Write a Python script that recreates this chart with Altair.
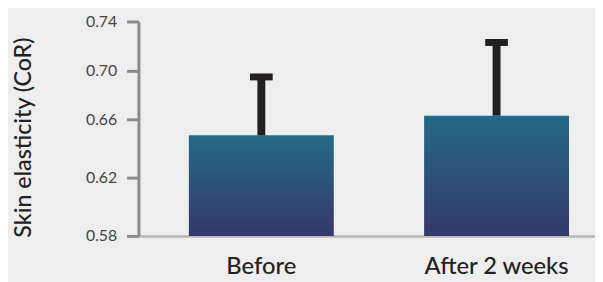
import altair as alt
import pandas as pd

categories = ["Before", "After 2 weeks"]
means = [0.649, 0.663]
upper = [0.695, 0.723]
base = [0.58, 0.58]

tick_values = [0.58, 0.62, 0.66, 0.70, 0.74]
tick_pixels = [217, 158, 99, 50, 0]

df = pd.DataFrame({"cat": categories, "mean": means, "upper": upper, "base": base})

xenc = alt.X(
    "cat:N",
    sort=categories,
    title=None,
    scale=alt.Scale(paddingInner=0.384, paddingOuter=0.1624, align=0.66),
    axis=alt.Axis(
        labelAngle=0,
        ticks=False,
        labelFont="Lato",
        labelFontSize=24,
        labelFontWeight=500,
        labelColor="#222222",
        labelPadding=19,
        domainColor="#b8b8b8",
        domainWidth=2.5,
    ),
)

yscale = alt.Scale(domain=tick_values, range=tick_pixels, zero=False)

grad = alt.Gradient(
    gradient="linear",
    stops=[
        alt.GradientStop(color="#256a86", offset=0),
        alt.GradientStop(color="#35386c", offset=1),
    ],
    x1=0, x2=0, y1=0, y2=1,
)

bars = alt.Chart(df).mark_bar(color=grad).encode(
    x=xenc,
    y=alt.Y(
        "mean:Q",
        scale=yscale,
        title="Skin elasticity (CoR)",
        axis=alt.Axis(
            values=tick_values,
            format=".2f",
            grid=False,
            domainColor="#8a8a8a",
            domainWidth=3,
            tickColor="#8a8a8a",
            tickWidth=3,
            tickSize=12,
            labelFont="Lato",
            labelFontSize=16,
            labelColor="#444444",
            labelPadding=10,
            titleFont="Lato",
            titleFontSize=23.5,
            titleFontWeight=500,
            titleColor="#222222",
            titleX=-116,
            titleY=117,
            titleAlign="center",
            titleBaseline="middle",
            titleAngle=270,
        ),
    ),
    y2="base:Q",
)

stems = alt.Chart(df).mark_rule(color="#231f20", strokeWidth=8).encode(
    x=alt.X("cat:N", sort=categories),
    y=alt.Y("mean:Q", scale=yscale),
    y2="upper:Q",
)

caps = alt.Chart(df).mark_tick(color="#231f20", thickness=7, size=23, opacity=1).encode(
    x=alt.X("cat:N", sort=categories),
    y=alt.Y("upper:Q", scale=yscale),
)

chart = (
    alt.layer(bars, stems, caps)
    .properties(
        width=462,
        height=217,
        background="#eeeeee",
        autosize=alt.AutoSizeParams(type="none"),
        padding={"left": 132, "top": 12, "right": 0, "bottom": 45},
    )
    .configure_view(stroke=None)
)

chart.save("out.html", embed_options={"renderer": "svg", "actions": False})
